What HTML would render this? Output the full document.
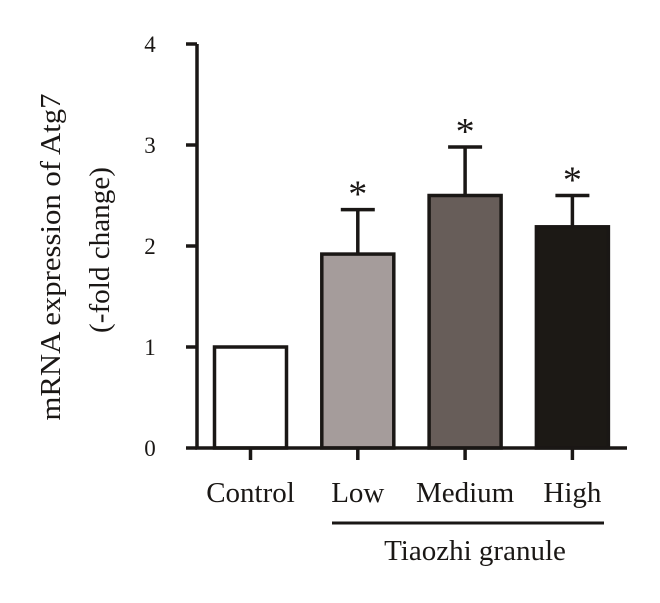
<!DOCTYPE html>
<html><head><meta charset="utf-8"><style>
html,body{margin:0;padding:0;background:#fff;}
svg{display:block;font-family:"Liberation Serif",serif;}
</style></head><body>
<svg id="chart" width="660" height="603" viewBox="0 0 660 603" xmlns="http://www.w3.org/2000/svg"></svg>
<script>
const categories = ["Control","Low","Medium","High"];
const means = [1.0, 1.92, 2.5, 2.19];
const errors = [0, 0.44, 0.48, 0.31];
const significant = [false, true, true, true];
const fills = ["#ffffff","#a59c9b","#675d59","#1c1915"];
const yTicks = [0,1,2,3,4];

const NS="http://www.w3.org/2000/svg";
const svg=document.getElementById('chart');
const x0=197, y0=448, yTop=44, yMax=4;
const y=v=>y0-(v/yMax)*(y0-yTop);
const step=107.3, firstCenter=250.5, barW=72;
const xc=i=>firstCenter+i*step;
function mk(tag,attrs,text){const e=document.createElementNS(NS,tag);for(const k in attrs)e.setAttribute(k,attrs[k]);if(text!==undefined)e.textContent=text;svg.appendChild(e);return e;}
const ink="#1a1715";

categories.forEach((c,i)=>{
  const r=mk('rect',{x:xc(i)-barW/2,y:y(means[i]),width:barW,height:y0-y(means[i]),fill:fills[i],stroke:ink,'stroke-width':3.5});
  
  
  if(errors[i]>0){
    const e=mk('path',{d:`M${xc(i)} ${y(means[i])} V${y(means[i]+errors[i])} M${xc(i)-17} ${y(means[i]+errors[i])} H${xc(i)+17}`,stroke:ink,'stroke-width':3.5,fill:'none'});
    
    
  }
  if(significant[i]){
    const s=mk('text',{x:xc(i),y:y(means[i]+errors[i])-3,'text-anchor':'middle','font-size':38,fill:ink},'*');
    
    
  }
  const t=mk('path',{d:`M${xc(i)} ${y0} V${y0+12}`,stroke:ink,'stroke-width':3.5});
  
  
  const l=mk('text',{x:xc(i),y:502,'text-anchor':'middle','font-size':29,fill:ink},c);
  
  
});

yTicks.forEach(v=>{
  const t=mk('path',{d:`M${x0-11} ${y(v)} H${x0}`,stroke:ink,'stroke-width':3.5});
  
  
  const l=mk('text',{x:150,y:y(v)+8,'text-anchor':'middle','font-size':23,fill:ink},String(v));
  
  
});

const ax=mk('path',{d:`M${x0} ${yTop} V${y0} H627`,stroke:ink,'stroke-width':3.5,fill:'none'});



const br=mk('path',{d:'M332 523 H604',stroke:ink,'stroke-width':3});


const gl=mk('text',{x:475,y:560,'text-anchor':'middle','font-size':29,fill:ink},'Tiaozhi granule');



const yt1=mk('text',{x:0,y:0,transform:'translate(60,257) rotate(-90)','text-anchor':'middle','font-size':29,fill:ink,textLength:327,lengthAdjust:'spacingAndGlyphs'},'mRNA expression of Atg7');


const yt2=mk('text',{x:0,y:0,transform:'translate(109,250) rotate(-90)','text-anchor':'middle','font-size':29,fill:ink,textLength:166,lengthAdjust:'spacingAndGlyphs'},'(-fold change)');


</script>
</body></html>
